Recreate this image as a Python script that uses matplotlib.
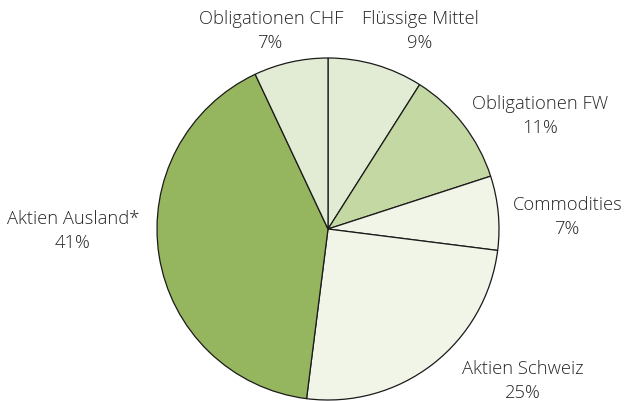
import matplotlib
import matplotlib.pyplot as plt

matplotlib.use("Agg")

labels = ["Flüssige Mittel", "Obligationen FW", "Commodities", "Aktien Schweiz", "Aktien Ausland*", "Obligationen CHF"]
shares = [9, 11, 7, 25, 41, 7]
colors = ["#e2ecd4", "#c4d8a4", "#f1f5e8", "#f1f5e8", "#95b65e", "#e2ecd4"]

# label centres in pixel coords (x, y from top)
label_pos = [(420, 31), (540, 116), (568, 217), (523, 381), (73, 231), (271, 31)]

W, H = 624, 401
fig = plt.figure(figsize=(W / 100, H / 100), dpi=100)
ax = fig.add_axes([0, 0, 1, 1])
ax.pie(
    shares,
    colors=colors,
    startangle=90,
    counterclock=False,
    center=(328, H - 229),
    radius=171,
    wedgeprops={"edgecolor": "#1a1a1a", "linewidth": 0.9},
)
ax.set_xlim(0, W)
ax.set_ylim(0, H)
ax.set_aspect("equal")
ax.axis("off")

for name, value, (x, y) in zip(labels, shares, label_pos):
    ax.text(x, H - y, f"{name}\n{value}%", ha="center", va="center", fontsize=13.2,
            family="Open Sans", fontweight="light", color="#262626", linespacing=1.4)

fig.savefig("out.png", dpi=100)
